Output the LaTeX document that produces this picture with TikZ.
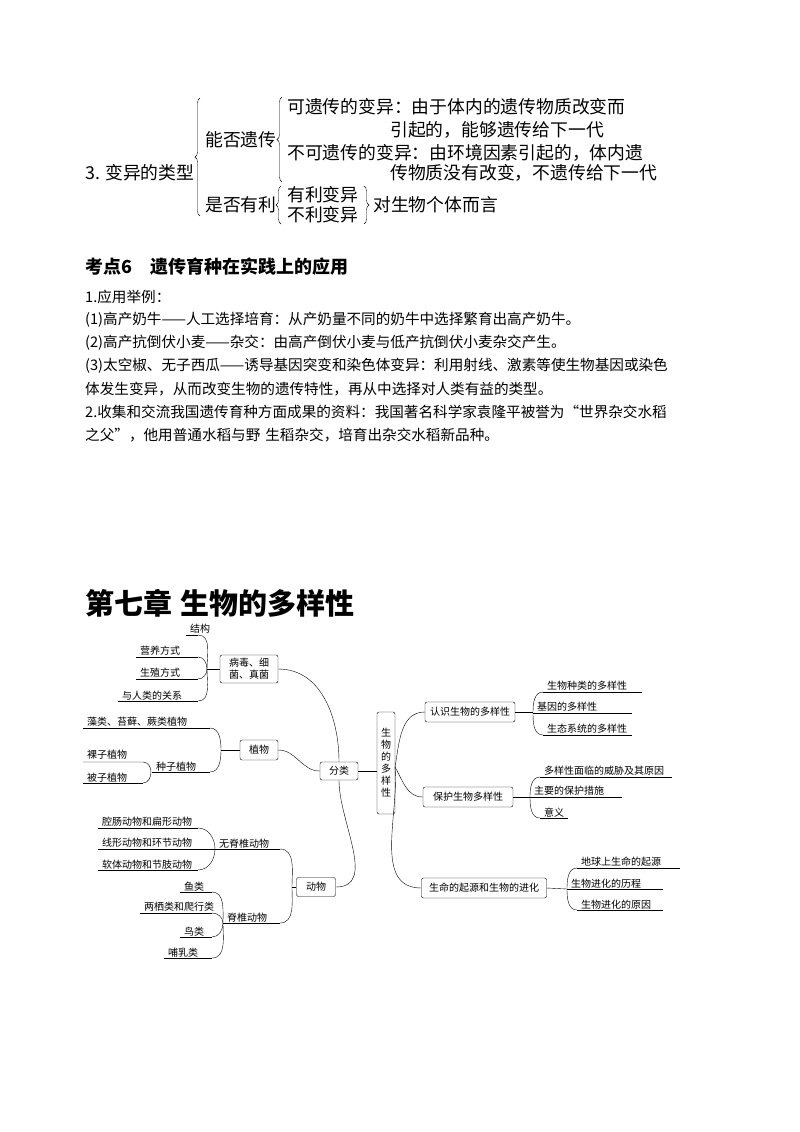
\documentclass[tikz,border=0pt]{standalone}
\usepackage{fontspec}
\setmainfont{Noto Sans CJK SC}
\usetikzlibrary{decorations.pathreplacing}
\newcommand\mapfont{\fontsize{10}{12}\selectfont}
\newcommand\topfont{\fontsize{17.8}{20}\selectfont}
\newcommand\bodyfont{\fontsize{14.6}{17}\selectfont}
% underline with its text above it
\newcommand\leafline[4]{\draw (#1,#3) -- (#2,#3); \node[lbl] at (#1+3,#3) {#4};}
\begin{document}
\begin{tikzpicture}[x=1pt,y=-1pt,
  box/.style = {draw, rounded corners=2pt, font=\mapfont, inner sep=2pt},
  lbl/.style = {anchor=south west, inner sep=1pt, font=\mapfont},
  txt/.style = {anchor=west, inner sep=0pt},
  bracedeco/.style = {decorate, decoration={brace, amplitude=5pt}},
  ]
  \useasboundingbox (0,0) rectangle (800,1132);

  % variation types
  \node[txt, font=\topfont] (type) at (85,173) {3. 变异的类型};
  \draw[bracedeco] (200,216) -- (200,98);
  \node[txt, font=\topfont] (heri) at (205,140) {能否遗传};
  \draw[bracedeco] (282,182) -- (282,97);
  \node[txt, font=\topfont] at (287,107) {可遗传的变异：由于体内的遗传物质改变而};
  \node[txt, font=\topfont] at (390,130) {引起的，能够遗传给下一代};
  \node[txt, font=\topfont] at (287,153) {不可遗传的变异：由环境因素引起的，体内遗};
  \node[txt, font=\topfont] at (390,173) {传物质没有改变，不遗传给下一代};
  \node[txt, font=\topfont] (good) at (205,205) {是否有利};
  \draw[bracedeco] (281,224) -- (281,186);
  \node[txt, font=\topfont] at (287,195) {有利变异};
  \node[txt, font=\topfont] at (287,215) {不利变异};
  \draw[bracedeco] (364,186) -- (364,224);
  \node[txt, font=\topfont] at (373,205) {对生物个体而言};

  % point 6
  \node[txt, font=\fontsize{18}{21}\selectfont\bfseries] at (85,267) {考点6\hspace{18pt}遗传育种在实践上的应用};
  \node[txt, font=\bodyfont] at (85,297) {1.应用举例：};
  \node[txt, font=\bodyfont] at (85,320) {(1)高产奶牛——人工选择培育：从产奶量不同的奶牛中选择繁育出高产奶牛。};
  \node[txt, font=\bodyfont] at (85,343) {(2)高产抗倒伏小麦——杂交：由高产倒伏小麦与低产抗倒伏小麦杂交产生。};
  \node[txt, font=\bodyfont] at (85,366) {(3)太空椒、无子西瓜——诱导基因突变和染色体变异：利用射线、激素等使生物基因或染色};
  \node[txt, font=\bodyfont] at (85,389) {体发生变异，从而改变生物的遗传特性，再从中选择对人类有益的类型。};
  \node[txt, font=\bodyfont] at (85,412) {2.收集和交流我国遗传育种方面成果的资料：我国著名科学家袁隆平被誉为“世界杂交水稻};
  \node[txt, font=\bodyfont] at (85,435) {之父”，他用普通水稻与野\hspace{5pt}生稻杂交，培育出杂交水稻新品种。};

  % chapter 7
  \node[txt, font=\fontsize{29}{32}\selectfont\bfseries] at (85,603) {第七章\hspace{8pt}生物的多样性};

  % mind map boxes
  \node[box, align=center, minimum width=18pt, minimum height=102pt, text width=11pt] (sw) at (386,763) {生\\物\\的\\多\\样\\性};
  \node[box, minimum width=38pt, minimum height=18pt] (fenlei) at (339,771) {分类};
  \node[box, align=center, minimum width=58pt, minimum height=28pt] (bing) at (249,669) {病毒、细\\菌、真菌};
  \node[box, minimum width=38pt, minimum height=20pt] (zhiwu) at (259,750) {植物};
  \node[box, minimum width=39pt, minimum height=19pt] (dongwu) at (316,887) {动物};
  \node[box, minimum width=90pt, minimum height=20pt] (renshi) at (470,712) {认识生物的多样性};
  \node[box, minimum width=90pt, minimum height=20pt] (baohu) at (468,797) {保护生物多样性};
  \node[box, minimum width=125pt, minimum height=20pt] (shengming) at (484,888) {生命的起源和生物的进化};

  % left connectors
  \draw (bing.east) to[out=0,in=90] (fenlei.north);
  \draw (zhiwu.east) to[out=0,in=180] (fenlei.west);
  \draw (dongwu.east) to[out=0,in=-90] (fenlei.south);
  \draw (fenlei.east) -- (sw.west |- fenlei.east);

  % virus leaves
  \coordinate (hubA) at (207,669);
  \draw (hubA) -- (bing.west);
  \leafline{186}{198}{635}{结构}
  \leafline{136}{198}{657}{营养方式}
  \leafline{136}{198}{679}{生殖方式}
  \leafline{118}{198}{701}{与人类的关系}
  \draw (198,635) to[out=0,in=90] (hubA);
  \draw (198,657) to[out=0,in=90] (hubA);
  \draw (198,679) to[out=0,in=-90] (hubA);
  \draw (198,701) to[out=0,in=-90] (hubA);

  % plant leaves
  \coordinate (hubB) at (221,750);
  \draw (hubB) -- (zhiwu.west);
  \leafline{83}{210}{728}{藻类、苔藓、蕨类植物}
  \leafline{152}{210}{772}{种子植物}
  \draw (210,728) to[out=0,in=90] (hubB);
  \draw (210,772) to[out=0,in=-90] (hubB);
  \coordinate (hubC) at (151,772);
  \node[lbl] at (86,760) {裸子植物};
  \leafline{83}{143}{783}{被子植物}
  \draw (83,762) -- (143,762) to[out=0,in=90] (hubC) to[out=-90,in=0] (143,783);

  % animal leaves
  \coordinate (hubD) at (292,887);
  \draw (hubD) -- (dongwu.west);
  \coordinate (hubE) at (215,849);
  \leafline{98}{198}{828}{腔肠动物和扁形动物}
  \leafline{98}{198}{849}{线形动物和环节动物}
  \leafline{98}{198}{870}{软体动物和节肢动物}
  \draw (198,828) to[out=0,in=90] (hubE);
  \draw (198,849) -- (hubE);
  \draw (198,870) to[out=0,in=-90] (hubE);
  \leafline{215}{280}{849}{无脊椎动物}
  \draw (280,849) to[out=0,in=90] (hubD);
  \coordinate (hubF) at (223,923);
  \leafline{180}{212}{892}{鱼类}
  \leafline{140}{212}{913}{两栖类和爬行类}
  \leafline{180}{212}{937}{鸟类}
  \leafline{164}{212}{958}{哺乳类}
  \draw (212,892) to[out=0,in=90] (hubF);
  \draw (212,913) to[out=0,in=90] (hubF);
  \draw (212,937) to[out=0,in=-90] (hubF);
  \draw (212,958) to[out=0,in=-90] (hubF);
  \leafline{223}{280}{923}{脊椎动物}
  \draw (280,923) to[out=0,in=-90] (hubD);

  % right connectors
  \coordinate (swr) at (395,767);
  \draw (swr) to[out=80,in=180] (renshi.west);
  \draw (swr) to[out=-60,in=180] (baohu.west);
  \draw (swr) to[out=-85,in=180] (shengming.west);

  % right leaves
  \coordinate (hubG) at (533,712);
  \draw (renshi.east) -- (hubG);
  \leafline{543}{642}{692}{生物种类的多样性}
  \leafline{533}{632}{713}{基因的多样性}
  \leafline{543}{632}{735}{生态系统的多样性}
  \draw (543,692) to[out=180,in=90] (hubG) to[out=-90,in=180] (543,735);

  \coordinate (hubH) at (530,797);
  \draw (baohu.east) -- (hubH);
  \leafline{540}{672}{777}{多样性面临的威胁及其原因}
  \leafline{530}{622}{797}{主要的保护措施}
  \leafline{540}{568}{818}{意义}
  \draw (540,777) to[out=180,in=90] (hubH) to[out=-90,in=180] (540,818);

  \coordinate (hubI) at (567,889);
  \draw (shengming.east) -- (hubI);
  \leafline{577}{680}{868}{地球上生命的起源}
  \leafline{567}{663}{889}{生物进化的历程}
  \leafline{577}{663}{910}{生物进化的原因}
  \draw (577,868) to[out=180,in=90] (hubI) to[out=-90,in=180] (577,910);
\end{tikzpicture}
\end{document}
